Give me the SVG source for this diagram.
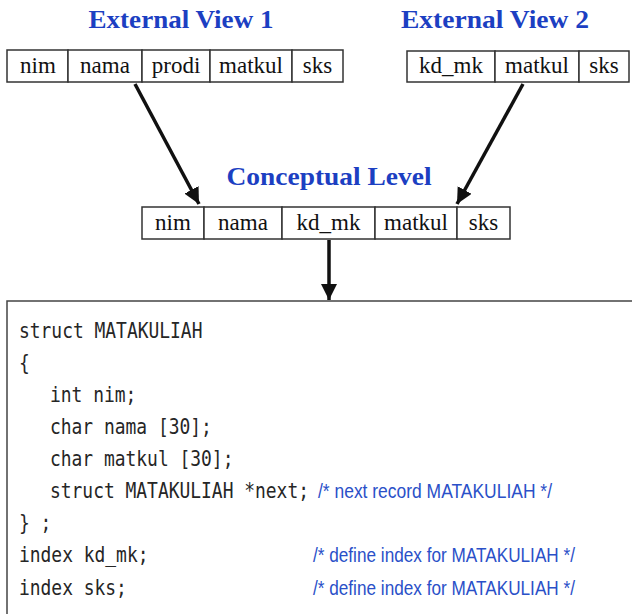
<svg xmlns="http://www.w3.org/2000/svg" width="632" height="614" viewBox="0 0 632 614">
  <style>
    .title { font-family: "Liberation Serif", "Times New Roman", serif; font-weight: bold; font-size: 26px; fill: #1c3fc2; text-anchor: middle; }
    .cell { fill: #ffffff; stroke: #333333; stroke-width: 1.5; }
    .field { font-family: "Liberation Serif", "Times New Roman", serif; font-size: 23px; fill: #111111; text-anchor: middle; }
    .code { font-family: "DejaVu Sans Mono", "Liberation Mono", monospace; font-size: 20.5px; fill: #262626; }
    .comment { font-family: "Liberation Sans", Arial, sans-serif; font-size: 21px; fill: #2a50c8; }
    .conn { stroke: #111111; stroke-width: 3.5; fill: none; }
  </style>
  <defs>
    <marker id="arrow" viewBox="0 0 10 10" refX="10" refY="5" markerWidth="16" markerHeight="16" markerUnits="userSpaceOnUse" orient="auto">
      <path d="M0,0 L10,5 L0,10 Z" fill="#111111"/>
    </marker>
  </defs>
  <rect width="632" height="614" fill="#ffffff"/>

  <!-- External view 1 -->
  <g id="external-view-1">
    <text class="title" x="181" y="28" textLength="185" lengthAdjust="spacingAndGlyphs">External View 1</text>
    <rect class="cell" x="7" y="50" width="61" height="32"/>
    <rect class="cell" x="68" y="50" width="74" height="32"/>
    <rect class="cell" x="142" y="50" width="68" height="32"/>
    <rect class="cell" x="210" y="50" width="82" height="32"/>
    <rect class="cell" x="292" y="50" width="51" height="32"/>
    <text class="field" x="38" y="73">nim</text>
    <text class="field" x="105" y="73">nama</text>
    <text class="field" x="176" y="73">prodi</text>
    <text class="field" x="251" y="73">matkul</text>
    <text class="field" x="317.5" y="73">sks</text>
  </g>

  <!-- External view 2 -->
  <g id="external-view-2">
    <text class="title" x="495" y="28" textLength="188" lengthAdjust="spacingAndGlyphs">External View 2</text>
    <rect class="cell" x="407" y="51" width="88" height="31"/>
    <rect class="cell" x="495" y="51" width="84" height="31"/>
    <rect class="cell" x="579" y="51" width="50" height="31"/>
    <text class="field" x="451" y="73">kd_mk</text>
    <text class="field" x="537" y="73">matkul</text>
    <text class="field" x="604" y="73">sks</text>
  </g>

  <!-- Conceptual level -->
  <g id="conceptual-level">
    <text class="title" x="329" y="185" textLength="205" lengthAdjust="spacingAndGlyphs">Conceptual Level</text>
    <rect class="cell" x="142" y="207" width="62" height="32"/>
    <rect class="cell" x="204" y="207" width="78" height="32"/>
    <rect class="cell" x="282" y="207" width="93" height="32"/>
    <rect class="cell" x="375" y="207" width="82" height="32"/>
    <rect class="cell" x="457" y="207" width="53" height="32"/>
    <text class="field" x="173" y="230">nim</text>
    <text class="field" x="243" y="230">nama</text>
    <text class="field" x="328.5" y="230">kd_mk</text>
    <text class="field" x="416" y="230">matkul</text>
    <text class="field" x="483.5" y="230">sks</text>
  </g>

  <!-- Internal level: record structure -->
  <g id="internal-level">
    <rect x="7" y="301" width="640" height="340" fill="#ffffff" stroke="#444444" stroke-width="1.5"/>
    <!-- monospace squeezed horizontally to about 10.8px per character -->
    <g transform="scale(0.875,1)">
      <text class="code" x="21.7" y="338">struct MATAKULIAH</text>
      <text class="code" x="21.7" y="370">{</text>
      <text class="code" x="57.1" y="402">int nim;</text>
      <text class="code" x="57.1" y="434">char nama [30];</text>
      <text class="code" x="57.1" y="466">char matkul [30];</text>
      <text class="code" x="57.1" y="498">struct MATAKULIAH *next;</text>
      <text class="code" x="21.7" y="530">} ;</text>
      <text class="code" x="21.7" y="562">index kd_mk;</text>
      <text class="code" x="21.7" y="595">index sks;</text>
    </g>
    <text class="comment" x="318" y="498" textLength="234" lengthAdjust="spacingAndGlyphs">/* next record MATAKULIAH */</text>
    <text class="comment" x="313" y="562" textLength="262" lengthAdjust="spacingAndGlyphs">/* define index for MATAKULIAH */</text>
    <text class="comment" x="313" y="595" textLength="262" lengthAdjust="spacingAndGlyphs">/* define index for MATAKULIAH */</text>
  </g>

  <!-- Mappings between levels -->
  <g id="connectors">
    <line class="conn" x1="135" y1="84" x2="199" y2="204" marker-end="url(#arrow)"/>
    <line class="conn" x1="523" y1="84" x2="457" y2="204" marker-end="url(#arrow)"/>
    <line class="conn" x1="329" y1="240" x2="329" y2="300" marker-end="url(#arrow)"/>
  </g>
</svg>
